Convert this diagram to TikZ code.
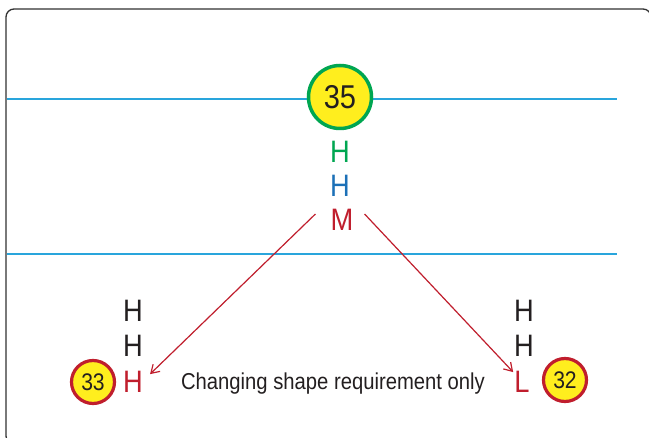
\documentclass[tikz,border=0pt]{standalone}
\usepackage{fontspec}
\setmainfont{Liberation Sans}[FakeStretch=0.88]
\usetikzlibrary{arrows.meta}
\definecolor{txtdark}{RGB}{35,31,32}
\definecolor{ggreen}{RGB}{0,166,81}
\definecolor{bblue}{RGB}{28,112,183}
\definecolor{rred}{RGB}{192,30,45}
\definecolor{lineblue}{RGB}{41,165,220}
\definecolor{yfill}{RGB}{255,238,30}
\definecolor{frame}{RGB}{50,50,50}
\tikzset{
  letter/.style={font=\fontsize{31}{33}\selectfont, inner sep=0pt, text=txtdark},
  bigcirc/.style={circle, draw=ggreen, line width=3.5pt, fill=yfill, minimum size=63pt, inner sep=0pt, font=\fontsize{33}{35}\selectfont, text=txtdark},
  smallcirc/.style={circle, draw=rred, line width=3.2pt, fill=yfill, minimum size=43pt, inner sep=0pt, font=\fontsize{24}{26}\selectfont, text=txtdark},
  hline/.style={draw=lineblue, line width=1.1pt},
  arr/.style={draw=rred, line width=1.2pt, -{Straight Barb[length=8pt,width=10pt]}},
  caption/.style={font=\fontsize{23}{25}\selectfont, text=txtdark, inner sep=0pt}
}
\begin{document}
\begin{tikzpicture}[x=1pt,y=-1pt]
\clip (0,0) rectangle (649,438);
\fill[white] (0,0) rectangle (649,438);
\draw[frame, line width=1.3pt, rounded corners=8pt] (6,9) rectangle (651,444);
\coordinate (l1a) at (7,99);
\coordinate (l1b) at (617,99);
\coordinate (l2a) at (7,254);
\coordinate (l2b) at (617,254);
\draw[hline] (l1a) -- (l1b);
\draw[hline] (l2a) -- (l2b);
\node[bigcirc] (c35) at (340,97) {35};
\node[letter, text=ggreen] (h1) at (340,152) {H};
\node[letter, text=bblue] (h2) at (340,186) {H};
\node[letter, text=rred] (m) at (342,220) {M};
\node[letter] (lh1) at (133,311) {H};
\node[letter] (lh2) at (133,346) {H};
\node[letter, text=rred] (lh3) at (133,382) {H};
\node[letter] (rh1) at (524,311) {H};
\node[letter] (rh2) at (524,346) {H};
\node[letter, text=rred] (rl) at (522,382) {L};
\node[smallcirc] (c33) at (93,382) {33};
\node[smallcirc] (c32) at (565,380) {32};
\node[caption] (cap) at (333,384) {Changing shape requirement only};
\draw[arr] ([xshift=-15pt,yshift=6pt]m.west) -- ([xshift=7pt,yshift=-3pt]lh3.north east);
\draw[arr] ([xshift=11pt,yshift=6pt]m.east) -- ([xshift=-1pt,yshift=-1pt]rl.north west);
\end{tikzpicture}
\end{document}
